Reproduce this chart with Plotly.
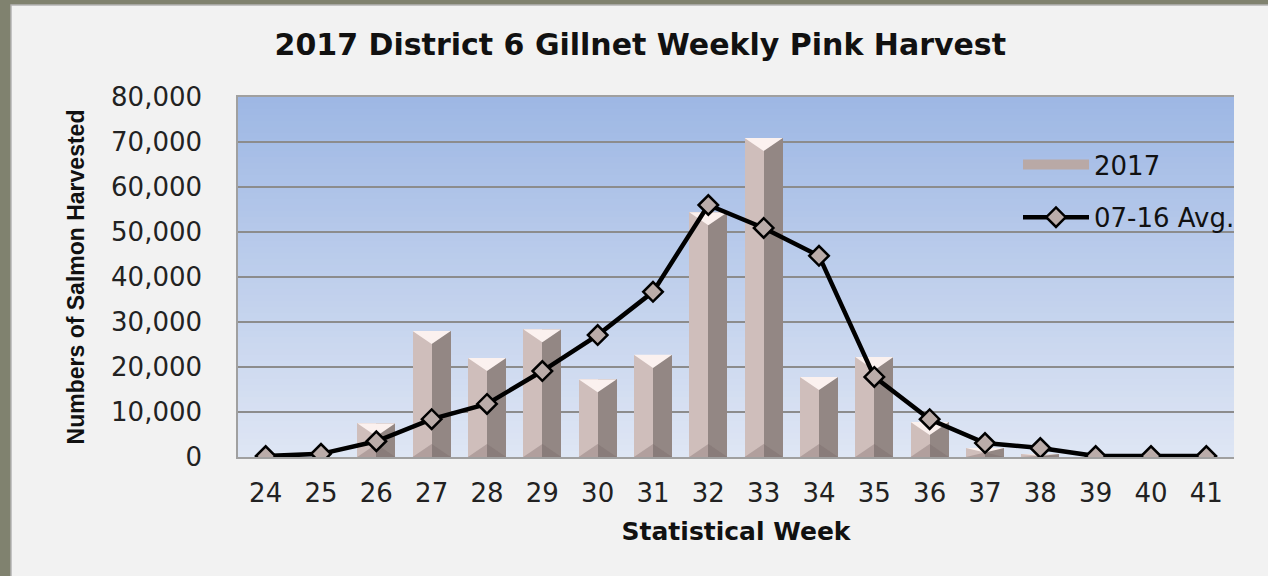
import plotly.graph_objects as go

weeks = [24, 25, 26, 27, 28, 29, 30, 31, 32, 33, 34, 35, 36, 37, 38, 39, 40, 41]
harvest_2017 = [0, 0, 7500, 28000, 22000, 28400, 17300, 22700, 54400, 70900,
                17800, 22200, 7800, 2000, 600, 0, 0, 0]
avg_07_16 = [200, 700, 3500, 8400, 11800, 19100, 27100, 36700, 56000, 50900,
             44700, 17800, 8400, 3100, 2000, 200, 200, 200]
y_ticks = [0, 10000, 20000, 30000, 40000, 50000, 60000, 70000, 80000]
y_tick_text = ["0", "10,000", "20,000", "30,000", "40,000", "50,000", "60,000", "70,000", "80,000"]

W, H = 1268, 576
L, R, T, B = 238, 34, 97, 119
pw, ph = W - L - R, H - T - B

BAR_W = 0.69
HW = BAR_W / 2
BEVEL = 2900  # bevel depth in data units (~13 px)
LIGHT = "#cfbebb"
DARK = "#938784"
fig = go.Figure()

# bars: left light half and right shaded half for a bevelled look
fig.add_trace(go.Bar(x=weeks, y=harvest_2017, width=HW, offset=-HW,
                     marker=dict(color=LIGHT, line=dict(width=0)),
                     name="2017", showlegend=False, hoverinfo="x+y"))
fig.add_trace(go.Bar(x=weeks, y=harvest_2017, width=HW, offset=0,
                     marker=dict(color=DARK, line=dict(width=0)),
                     name="2017", showlegend=False, hoverinfo="skip"))

# bevel triangles derived from the bar values
top_x, top_y, bot_x, bot_y = [], [], [], []
for w, v in zip(weeks, harvest_2017):
    if v <= 0:
        continue
    d = min(BEVEL, v / 2)
    top_x += [w - HW, w + HW, w, w - HW, None]
    top_y += [v, v, v - d, v, None]
    bot_x += [w - HW, w + HW, w, w - HW, None]
    bot_y += [0, 0, d, 0, None]
fig.add_trace(go.Scatter(x=bot_x, y=bot_y, mode="lines", fill="toself",
                         fillcolor="rgba(120,104,102,0.35)", line=dict(width=0),
                         showlegend=False, hoverinfo="skip"))
fig.add_trace(go.Scatter(x=top_x, y=top_y, mode="lines", fill="toself",
                         fillcolor="#fbf1ef", line=dict(width=0),
                         showlegend=False, hoverinfo="skip"))

# legend entry for the bars (wide flat swatch)
fig.add_trace(go.Scatter(x=[None], y=[None], mode="lines", name="2017",
                         legendgroup="a",
                         line=dict(color="#b9a9a6", width=14)))
fig.add_trace(go.Scatter(x=weeks, y=avg_07_16, mode="lines+markers", name="07-16 Avg.",
                         legendgroup="b",
                         line=dict(color="black", width=4.5),
                         marker=dict(symbol="diamond", size=15, color="#baaca9",
                                     line=dict(color="black", width=2.5))))

shapes = []
# outer frame panel
shapes.append(dict(type="rect", xref="paper", yref="paper", layer="below",
                   x0=(11 - L) / pw, x1=(W + 5 - L) / pw,
                   y0=(H - B - (H + 5)) / ph, y1=(H - B - 5) / ph,
                   fillcolor="#f2f2f2", line=dict(color="#b4b4b4", width=1.5)))
# gradient plot background
top = (157, 183, 228)
bot = (223, 230, 244)
n = 60
for i in range(n):
    f = (i + 0.5) / n
    c = tuple(round(bot[k] + (top[k] - bot[k]) * f) for k in range(3))
    shapes.append(dict(type="rect", xref="paper", yref="paper", layer="below",
                       x0=0, x1=1, y0=i / n, y1=(i + 1) / n + 0.002,
                       fillcolor="rgb(%d,%d,%d)" % c, line=dict(width=0)))

fig.update_layout(
    width=W, height=H,
    margin=dict(l=L, r=R, t=T, b=B),
    paper_bgcolor="#80826f",
    plot_bgcolor="rgba(0,0,0,0)",
    shapes=shapes,
    barmode="overlay",
    bargap=0,
    title=dict(text="<b>2017 District 6 Gillnet Weekly Pink Harvest</b>",
               x=0.505, xanchor="center", y=1 - 44 / H, yanchor="middle",
               font=dict(family="DejaVu Sans", size=30, color="#111111")),
    font=dict(family="DejaVu Sans", size=21, color="#222222"),
    showlegend=True,
    legend=dict(x=(1018 - L) / pw, y=(457 - 141) / ph, xanchor="left", yanchor="top",
                bgcolor="rgba(0,0,0,0)", borderwidth=0,
                font=dict(family="DejaVu Sans", size=26, color="#111111"),
                traceorder="grouped", tracegroupgap=16, itemwidth=66),
    xaxis=dict(range=[23.5, 41.5], tickmode="array", tickvals=weeks,
               ticktext=[str(w) for w in weeks],
               showgrid=False, zeroline=False,
               showline=True, linecolor="#a0a0a0", linewidth=1.5, mirror=True,
               ticks="outside", ticklen=12, tickcolor="rgba(0,0,0,0)",
               tickfont=dict(family="DejaVu Sans", size=26, color="#222222"),
               title=dict(text="<b>Statistical Week</b>", standoff=16,
                          font=dict(family="DejaVu Sans", size=25, color="#111111"))),
    yaxis=dict(range=[0, 80000], tickmode="array", tickvals=y_ticks, ticktext=y_tick_text,
               showgrid=True, gridcolor="#8c8c8c", gridwidth=1.5, zeroline=False,
               showline=True, linecolor="#a0a0a0", linewidth=1.5,
               ticks="outside", ticklen=29, tickcolor="rgba(0,0,0,0)",
               tickfont=dict(family="DejaVu Sans", size=26, color="#222222"),
               title=dict(text="<b>Numbers of Salmon Harvested</b>", standoff=20,
                          font=dict(family="Liberation Sans", size=23, color="#111111"))),
)

fig.write_html("out.html", config={"displayModeBar": False},
               post_script="document.body.style.margin='0';")
